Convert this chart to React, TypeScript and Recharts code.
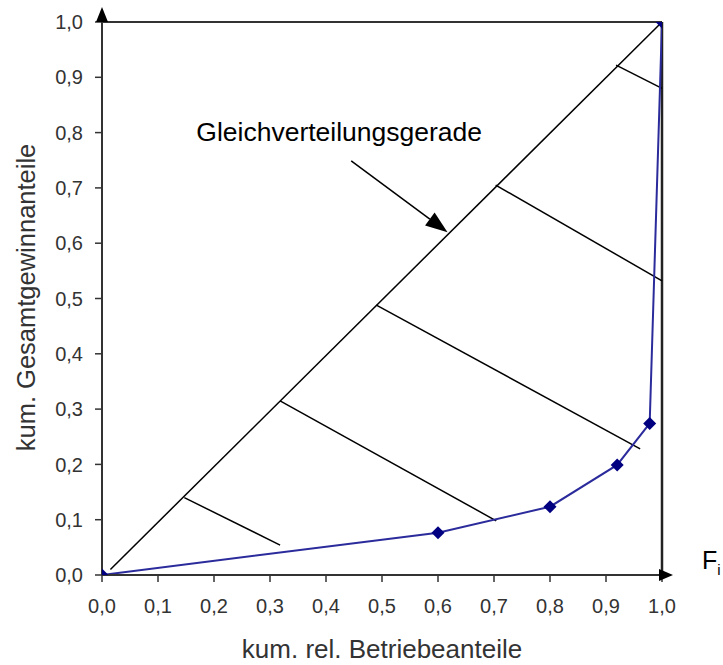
import {
  ComposedChart,
  Line,
  XAxis,
  YAxis,
  ReferenceLine,
  ReferenceDot,
  Label,
} from "recharts";

// Achsenticks
const xTicks = [0, 0.1, 0.2, 0.3, 0.4, 0.5, 0.6, 0.7, 0.8, 0.9, 1.0];
const yTicks = [0, 0.1, 0.2, 0.3, 0.4, 0.5, 0.6, 0.7, 0.8, 0.9, 1.0];

// Lorenzkurve: kum. rel. Betriebeanteile / kum. Gesamtgewinnanteile
const lorenzX = [0, 0.6, 0.8, 0.92, 0.978, 1.0];
const lorenzY = [0, 0.0765, 0.1235, 0.199, 0.274, 1.0];

// Gleichverteilungsgerade
const diagonalX = [0.015, 1.0];
const diagonalY = [0.01, 1.0];

// Schraffur zwischen Gerade und Kurve
const hatchStartX = [0.147, 0.318, 0.49, 0.703, 0.918];
const hatchStartY = [0.14, 0.315, 0.488, 0.705, 0.922];
const hatchEndX = [0.318, 0.704, 0.961, 1.0, 1.0];
const hatchEndY = [0.054, 0.098, 0.228, 0.532, 0.88];

// Beschriftungspfeil
const arrowX = [0.445, 0.617];
const arrowY = [0.749, 0.62];

const AXIS = "#333";
const BLUE = "#2b2b9c";
const NAVY = "#000080";
const FONT = "'Liberation Sans', Arial, sans-serif";

const data = lorenzX.map((x, i) => ({ x, y: lorenzY[i] }));
const fmt = (v: number) => v.toFixed(1).replace(".", ",");

const Diamond = (props: any) => {
  const { cx, cy } = props;
  if (cx == null || cy == null) return null;
  const r = 6.5;
  return (
    <polygon
      points={`${cx},${cy - r} ${cx + r},${cy} ${cx},${cy + r} ${cx - r},${cy}`}
      fill={NAVY}
    />
  );
};

const UpArrow = (props: any) => {
  const { cx, cy } = props;
  return (
    <polygon points={`${cx - 6},${cy} ${cx + 6},${cy} ${cx},${cy - 15}`} fill="#000" />
  );
};

const RightArrow = (props: any) => {
  const { cx, cy } = props;
  return (
    <polygon points={`${cx - 3},${cy - 6} ${cx - 3},${cy + 6} ${cx + 11},${cy}`} fill="#000" />
  );
};

const AnnotationArrow = (props: any) => {
  const { x1, y1, x2, y2 } = props;
  if (x1 == null) return null;
  const ang = Math.atan2(y2 - y1, x2 - x1);
  const len = 22;
  const w = 8;
  const bx = x2 - len * Math.cos(ang);
  const by = y2 - len * Math.sin(ang);
  const px = -Math.sin(ang) * w;
  const py = Math.cos(ang) * w;
  return (
    <g>
      <line x1={x1} y1={y1} x2={bx} y2={by} stroke="#000" strokeWidth={1.5} />
      <polygon
        points={`${x2},${y2} ${bx + px},${by + py} ${bx - px},${by - py}`}
        fill="#000"
      />
      <text
        x={x1 - 12}
        y={y1 - 20}
        textAnchor="middle"
        fontFamily={FONT}
        fontSize={26.5}
        fill="#000"
      >
        Gleichverteilungsgerade
      </text>
    </g>
  );
};

export default function App() {
  return (
    <div style={{ position: "absolute", left: 0, top: 0, background: "#fff" }}>
      <ComposedChart
        width={723}
        height={665}
        data={data}
        margin={{ top: 22, right: 61, bottom: 60, left: 42 }}
      >
        <XAxis
          dataKey="x"
          type="number"
          domain={[0, 1]}
          ticks={xTicks}
          tickFormatter={fmt}
          height={30}
          tickSize={7}
          tickMargin={17}
          axisLine={{ stroke: AXIS, strokeWidth: 2 }}
          tickLine={{ stroke: AXIS, strokeWidth: 1.5 }}
          tick={{ fill: AXIS, fontSize: 20, fontFamily: FONT }}
          allowDataOverflow
        >
          <Label
            value="kum. rel. Betriebeanteile"
            position="bottom"
            offset={35}
            style={{ fill: AXIS, fontSize: 26, fontFamily: FONT }}
          />
        </XAxis>
        <YAxis
          type="number"
          domain={[0, 1]}
          ticks={yTicks}
          tickFormatter={fmt}
          width={60}
          tickSize={7}
          tickMargin={12}
          axisLine={{ stroke: AXIS, strokeWidth: 2 }}
          tickLine={{ stroke: AXIS, strokeWidth: 1.5 }}
          tick={{ fill: AXIS, fontSize: 20, fontFamily: FONT }}
          allowDataOverflow
        >
          <Label
            value="kum. Gesamtgewinnanteile"
            angle={-90}
            position="insideLeft"
            offset={-16}
            dy={-1}
            style={{ fill: AXIS, fontSize: 25.5, fontFamily: FONT, textAnchor: "middle" }}
          />
        </YAxis>

        {/* Rahmen oben und rechts */}
        <ReferenceLine
          segment={[{ x: 0, y: 1 }, { x: 1, y: 1 }]}
          stroke={AXIS}
          strokeWidth={2}
          ifOverflow="visible"
        />
        <ReferenceLine
          segment={[{ x: 1, y: 0 }, { x: 1, y: 1 }]}
          stroke="#222"
          strokeWidth={2.5}
          ifOverflow="visible"
        />

        {/* Gleichverteilungsgerade */}
        <ReferenceLine
          segment={[
            { x: diagonalX[0], y: diagonalY[0] },
            { x: diagonalX[1], y: diagonalY[1] },
          ]}
          stroke="#000"
          strokeWidth={1.5}
          ifOverflow="visible"
        />

        {hatchStartX.map((sx, i) => (
          <ReferenceLine
            key={i}
            segment={[
              { x: sx, y: hatchStartY[i] },
              { x: hatchEndX[i], y: hatchEndY[i] },
            ]}
            stroke="#000"
            strokeWidth={1.5}
            ifOverflow="visible"
          />
        ))}

        <ReferenceLine
          segment={[
            { x: arrowX[0], y: arrowY[0] },
            { x: arrowX[1], y: arrowY[1] },
          ]}
          ifOverflow="visible"
          shape={<AnnotationArrow />}
        />

        <Line
          dataKey="y"
          stroke={BLUE}
          strokeWidth={2}
          dot={<Diamond />}
          activeDot={false}
          isAnimationActive={false}
        />

        <ReferenceDot x={0} y={1} ifOverflow="visible" shape={<UpArrow />} />
        <ReferenceDot x={1} y={0} ifOverflow="visible" shape={<RightArrow />} />
      </ComposedChart>
      <div
        style={{
          position: "absolute",
          left: 702,
          top: 546,
          fontFamily: FONT,
          fontSize: 25,
          color: "#000",
        }}
      >
        F<sub style={{ fontSize: 15 }}>i</sub>
      </div>
    </div>
  );
}
